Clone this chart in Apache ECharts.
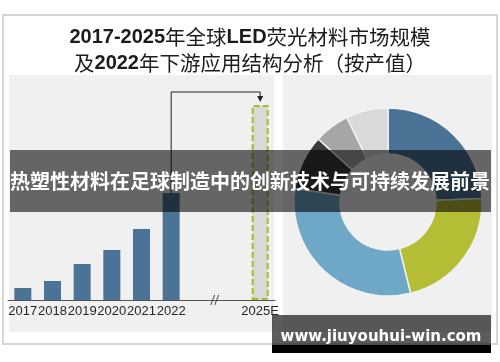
<!DOCTYPE html>
<html>
<head>
<meta charset="utf-8">
<script src="https://cdn.jsdelivr.net/npm/echarts@6/dist/echarts.min.js"></script>
<style>
	html, body { margin: 0; padding: 0; background: #fff; }
	#chart { width: 500px; height: 362px; }
</style>
</head>
<body>
<div id="chart"></div>
<script>
	// 年份（中间两个空位是断轴）
	var years = ['2017', '2018', '2019', '2020', '2021', '2022', '', '', '2025E'];
	// 全球LED荧光材料市场规模（无刻度，按柱高估读）
	var marketSize = [12, 19, 36, 50, 71, 107, null, null, 195];
	// 2022年下游应用结构（按产值，%）
	var appNames = ['应用A', '应用B', '应用C', '应用D', '应用E', '应用F'];
	var appShare = [24.4, 21.7, 31.1, 9.4, 6.1, 7.2];

	var pieColors = ['#4b7396', '#b4bd33', '#6fa8c7', '#3b3b3b', '#a6a6a6', '#d9d9d9'];

	var box = document.getElementById('chart');
	var myChart = echarts.init(box, null, { renderer: 'canvas' });

	var barData = marketSize.map(function (v, i) {
		if (years[i] === '2025E') {
			// 预测值：灰底 + 黄绿虚线框
			return {
				value: v,
				itemStyle: { color: '#d9d9d9', borderColor: '#a9bc22', borderWidth: 2, borderType: [6, 3] }
			};
		}
		return v;
	});

	myChart.setOption({
		backgroundColor: '#fff',
		animation: false,
		title: {
			left: 'center',
			top: 19,
			text: '{b|2017-2025}{n|年全球}{b|LED}{n|荧光材料市场规模}\n{n|及}{b|2022}{n|年下游应用结构分析（按产值）}',
			textStyle: {
				rich: {
					b: { fontFamily: 'Liberation Sans', fontWeight: 'bold', fontSize: 20, color: '#1c1c1c', lineHeight: 26 },
					n: { fontFamily: 'Noto Sans CJK SC', fontWeight: 'normal', fontSize: 20.5, color: '#1c1c1c', lineHeight: 26 }
				}
			}
		},
		grid: { left: 8, right: 225, top: 75, bottom: 62 },
		xAxis: {
			type: 'category',
			data: years,
			axisTick: { show: false },
			axisLine: { lineStyle: { color: '#555', width: 1 } },
			axisLabel: {
				interval: 0,
				margin: 5,
				color: '#262626',
				fontSize: 13,
				fontFamily: 'Liberation Sans'
			}
		},
		yAxis: {
			type: 'value',
			min: 0,
			max: 225,
			show: false,
			splitLine: { show: false }
		},
		series: [
			{
				type: 'bar',
				data: barData,
				barWidth: 17,
				itemStyle: { color: '#4b7396' }
			},
			{
				type: 'pie',
				center: [388, 202],
				radius: [48, 94],
				startAngle: 90,
				clockwise: true,
				label: { show: false },
				labelLine: { show: false },
				itemStyle: { borderColor: '#f2f2f2', borderWidth: 1.5 },
				data: appNames.map(function (n, i) {
					return { name: n, value: appShare[i], itemStyle: { color: pieColors[i] } };
				})
			}
		]
	});

	// 箭头、断轴符号、背景板和遮罩
	var i22 = years.indexOf('2022');
	var i25 = years.indexOf('2025E');
	var p22 = myChart.convertToPixel({ gridIndex: 0 }, [i22, marketSize[i22]]);
	var p25 = myChart.convertToPixel({ gridIndex: 0 }, [i25, marketSize[i25]]);
	var pa = myChart.convertToPixel({ gridIndex: 0 }, [6, 0]);
	var pb = myChart.convertToPixel({ gridIndex: 0 }, [7, 0]);
	var brkX = (pa[0] + pb[0]) / 2;
	var baseY = pa[1];
	var topY = p25[1] - 13;

	myChart.setOption({
		graphic: [
			{ type: 'rect', z: -20, shape: { x: 3, y: 15, width: 494, height: 329 }, style: { fill: '#fff', stroke: '#d6d6d6', lineWidth: 2 } },
			{ type: 'rect', z: -10, shape: { x: 9, y: 75, width: 265, height: 257 }, style: { fill: '#f0f0f0' } },
			{ type: 'rect', z: -10, shape: { x: 283, y: 75, width: 209, height: 257 }, style: { fill: '#f0f0f0' } },
			{
				type: 'polyline', z: 10,
				shape: { points: [[p22[0], p22[1]], [p22[0], topY], [p25[0], topY], [p25[0], p25[1] - 8]] },
				style: { stroke: '#222', lineWidth: 1, fill: null }
			},
			{
				type: 'polygon', z: 10,
				shape: { points: [[p25[0] - 3, p25[1] - 9], [p25[0] + 3, p25[1] - 9], [p25[0], p25[1] - 3]] },
				style: { fill: '#222' }
			},
			{ type: 'line', z: 10, shape: { x1: brkX - 5, y1: baseY + 5, x2: brkX - 1, y2: baseY - 5 }, style: { stroke: '#444', lineWidth: 1 } },
			{ type: 'line', z: 10, shape: { x1: brkX - 1, y1: baseY + 5, x2: brkX + 3, y2: baseY - 5 }, style: { stroke: '#444', lineWidth: 1 } },
			// 中间标题遮罩
			{ type: 'rect', z: 100, shape: { x: 10, y: 150, width: 481, height: 62 }, style: { fill: 'rgba(0,0,0,0.58)' } },
			{
				type: 'text', z: 101, x: 250, y: 181,
				style: {
					text: '热塑性材料在足球制造中的创新技术与可持续发展前景',
					fill: '#fff', fontSize: 20, fontWeight: 'bold', fontFamily: 'Noto Sans CJK SC',
					align: 'center', verticalAlign: 'middle'
				}
			},
			// 右下角网址
			{ type: 'rect', z: 100, shape: { x: 272, y: 315, width: 219, height: 31 }, style: { fill: 'rgba(0,0,0,0.64)' } },
			{ type: 'rect', z: 100, shape: { x: 272, y: 345, width: 219, height: 8 }, style: { fill: '#000' } },
			{
				type: 'text', z: 101, x: 381, y: 337,
				style: {
					text: 'www.jiuyouhui-win.com',
					fill: '#fff', fontSize: 15, fontWeight: 'bold', fontFamily: 'DejaVu Sans',
					align: 'center', verticalAlign: 'middle'
				}
			}
		]
	});

	window.addEventListener('resize', function () {
		myChart.resize();
	});
</script>
</body>
</html>
